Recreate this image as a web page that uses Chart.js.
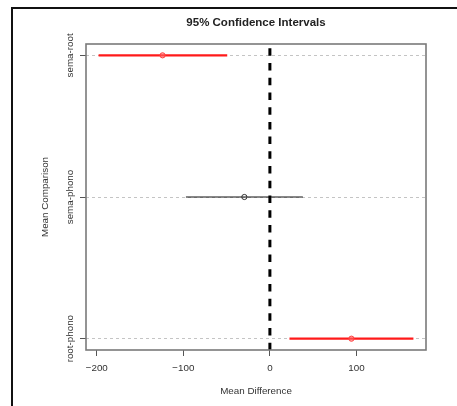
<!DOCTYPE html>
<html>
<head>
<meta charset="utf-8">
<script src="https://cdn.jsdelivr.net/npm/chart.js@4.4.1/dist/chart.umd.min.js"></script>
<style>
  html, body { margin: 0; padding: 0; background: #fff; }
  #wrap { width: 457px; height: 406px; }
</style>
</head>
<body>
<div id="wrap"><canvas id="chart" width="457" height="406"></canvas></div>
<script>
// Tukey-style comparisons, bottom to top
const comparisons = ['root-phono', 'sema-phono', 'sema-root'];
const meanDiffs = [94.2, -29.5, -124.0];
const lowerBounds = [22.6, -97.0, -197.9];
const upperBounds = [165.8, 38.1, -49.3];
const xTicks = [-200, -100, 0, 100];

const FONT = "'Liberation Sans', Arial, Helvetica, sans-serif";

// R pads the axis range by 4% on each side
const lo = Math.min(...lowerBounds), hi = Math.max(...upperBounds);
const xPad = (hi - lo) * 0.04;
const yPad = (comparisons.length - 1) * 0.04;

function isSignificant(i) {
    return lowerBounds[i] > 0 || upperBounds[i] < 0;
}

const datasets = [];

// zero reference line
datasets.push({
    type: 'line',
    data: [{ x: 0, y: comparisons.length + yPad }, { x: 0, y: 1 - yPad }],
    borderColor: '#000',
    borderWidth: 3,
    borderDash: [7.5, 7.23],
    borderDashOffset: 10.5,
    pointRadius: 0,
    order: 0
});

// mean points
datasets.push({
    type: 'scatter',
    data: meanDiffs.map((m, i) => ({ x: m, y: i + 1 })),
    pointRadius: 2.6,
    pointBorderWidth: 1,
    pointBorderColor: meanDiffs.map((m, i) => isSignificant(i) ? '#ff4040' : '#333'),
    pointBackgroundColor: meanDiffs.map((m, i) => isSignificant(i) ? 'rgba(255,110,110,0.55)' : 'rgba(255,255,255,0)'),
    order: 1
});

// interval segments
comparisons.forEach((c, i) => {
    const sig = isSignificant(i);
    datasets.push({
        type: 'line',
        data: [{ x: lowerBounds[i], y: i + 1 }, { x: upperBounds[i], y: i + 1 }],
        borderColor: sig ? '#ff1a1a' : '#111',
        borderWidth: sig ? 2.2 : 1,
        pointRadius: 0,
        order: 2
    });
});

const framePlugin = {
    id: 'frame',
    beforeDraw(chart) {
        const ctx = chart.ctx;
        ctx.save();
        ctx.fillStyle = '#fff';
        ctx.fillRect(0, 0, chart.width, chart.height);
        ctx.fillStyle = '#111';
        ctx.fillRect(11, 7, 2, chart.height - 7);
        ctx.fillRect(11, 7, chart.width - 11, 2);
        ctx.restore();
    },
    afterDraw(chart) {
        const { ctx, chartArea: a, scales: { y } } = chart;
        ctx.save();
        ctx.strokeStyle = '#7a7a7a';
        ctx.lineWidth = 1.6;
        ctx.strokeRect(a.left, a.top, a.right - a.left, a.bottom - a.top);

        // rotated category labels on the left axis
        ctx.fillStyle = '#333';
        ctx.font = '9.8px ' + FONT;
        ctx.textAlign = 'center';
        ctx.textBaseline = 'middle';
        comparisons.forEach((label, i) => {
            ctx.save();
            ctx.translate(70.5, y.getPixelForValue(i + 1));
            ctx.rotate(-Math.PI / 2);
            ctx.fillText(label, 0, 0);
            ctx.restore();
        });
        ctx.restore();
    }
};

new Chart(document.getElementById('chart'), {
    data: { datasets: datasets },
    options: {
        responsive: false,
        animation: false,
        layout: { padding: { left: 0, right: 31, top: 0, bottom: 0 } },
        plugins: {
            legend: { display: false },
            tooltip: { enabled: false },
            title: {
                display: true,
                text: '95% Confidence Intervals',
                fullSize: false,
                color: '#222',
                font: { family: FONT, size: 11.5, weight: 'bold' },
                padding: { top: 15.5, bottom: 14.7 }
            }
        },
        scales: {
            x: {
                type: 'linear',
                min: lo - xPad,
                max: hi + xPad,
                afterBuildTicks: (s) => { s.ticks = xTicks.map(v => ({ value: v })); },
                afterFit: (s) => { s.height = 56; },
                grid: {
                    drawOnChartArea: false,
                    drawTicks: true,
                    tickLength: 6,
                    tickColor: '#555',
                    tickWidth: 1
                },
                border: { display: false },
                ticks: {
                    color: '#333',
                    padding: 6,
                    maxRotation: 0,
                    font: { family: FONT, size: 9.8 },
                    callback: (v) => v < 0 ? '\u2212' + Math.abs(v) : String(v)
                },
                title: {
                    display: true,
                    text: 'Mean Difference',
                    color: '#333',
                    font: { family: FONT, size: 9.8 },
                    padding: { top: 0, bottom: 9.1 }
                }
            },
            y: {
                type: 'linear',
                min: 1 - yPad,
                max: comparisons.length + yPad,
                afterBuildTicks: (s) => { s.ticks = comparisons.map((c, i) => ({ value: i + 1 })); },
                afterFit: (s) => { s.width = 86; },
                grid: {
                    color: '#c4c4c4',
                    lineWidth: 1,
                    drawTicks: true,
                    tickLength: 6,
                    tickColor: '#555',
                    tickWidth: 1,
                    tickBorderDash: []
                },
                border: { display: false, dash: [3, 3] },
                ticks: { display: false },
                title: {
                    display: true,
                    text: 'Mean Comparison',
                    color: '#333',
                    font: { family: FONT, size: 9.8 },
                    padding: { top: 39.6, bottom: 0 }
                }
            }
        }
    },
    plugins: [framePlugin]
});
</script>
</body>
</html>
